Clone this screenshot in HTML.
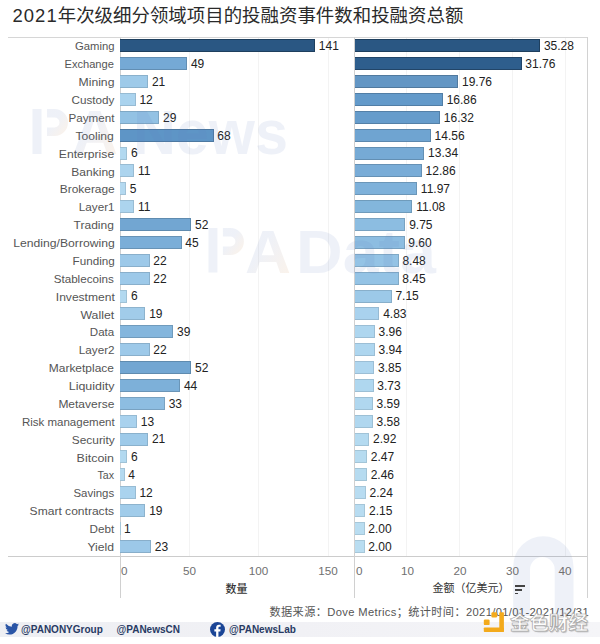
<!DOCTYPE html>
<html><head><meta charset="utf-8"><title>2021年次级细分领域项目的投融资事件数和投融资总额</title>
<style>
html,body{margin:0;padding:0;background:#fff;}
body{width:600px;height:644px;position:relative;overflow:hidden;font-family:"Liberation Sans","Noto Sans CJK SC",sans-serif;}
.a{position:absolute;}
.t{position:absolute;white-space:nowrap;line-height:1;}
.lab{position:absolute;right:485.7px;transform-origin:100% 50%;font-size:11px;color:#555;white-space:nowrap;line-height:1;}
.val{position:absolute;font-size:12px;color:#222;white-space:nowrap;line-height:1;}
.bar{position:absolute;box-sizing:border-box;}
.hl{position:absolute;height:1px;}
.vl{position:absolute;width:1px;}
.tick{position:absolute;font-size:11.7px;color:#707070;white-space:nowrap;line-height:1;}
.wm{position:absolute;white-space:nowrap;line-height:1;font-weight:bold;}
</style></head><body>

<div class="t" style="left:12.5px;top:6.6px;font-size:18.45px;color:#2a2a2a;font-family:'Liberation Sans','Noto Sans CJK SC',sans-serif;"><span style="letter-spacing:1.05px">2021</span>年次级细分领域项目的投融资事件数和投融资总额</div>
<div class="vl" style="left:188.6px;top:37px;height:519px;background:#f3f3f3"></div>
<div class="vl" style="left:258.0px;top:37px;height:519px;background:#f3f3f3"></div>
<div class="vl" style="left:327.6px;top:37px;height:519px;background:#f3f3f3"></div>
<div class="vl" style="left:406.3px;top:37px;height:519px;background:#f3f3f3"></div>
<div class="vl" style="left:459.4px;top:37px;height:519px;background:#f3f3f3"></div>
<div class="vl" style="left:512.0px;top:37px;height:519px;background:#f3f3f3"></div>
<div class="vl" style="left:565.0px;top:37px;height:519px;background:#f3f3f3"></div>
<div class="hl" style="left:8px;top:36.6px;width:580px;background:#d6d6d6"></div>
<div class="hl" style="left:8px;top:555.5px;width:580px;background:#cccccc"></div>
<div class="vl" style="left:119.5px;top:37px;height:561px;background:#d0d0d0"></div>
<div class="vl" style="left:354px;top:37px;height:561px;background:#d0d0d0"></div>
<div class="vl" style="left:587px;top:37px;height:561px;background:#d2d2d2"></div>
<div class="lab" style="top:41.45px;transform:scaleX(1.025)">Gaming</div>
<div class="bar" style="left:120px;top:39.35px;width:195.15px;height:13.0px;background:#2a5783;border:1px solid #1e3f5e;border-left:0"></div>
<div class="val" style="left:318.85px;top:40.15px">141</div>
<div class="bar" style="left:354.6px;top:39.35px;width:185.63px;height:13.0px;background:#2a5783;border:1px solid #1e3f5e;border-left:0"></div>
<div class="val" style="left:543.93px;top:40.15px">35.28</div>
<div class="lab" style="top:59.33px;transform:scaleX(1.011)">Exchange</div>
<div class="bar" style="left:120px;top:57.23px;width:67.18px;height:13.0px;background:#75a9d5;border:1px solid #628eb3;border-left:0"></div>
<div class="val" style="left:190.88px;top:58.02px">49</div>
<div class="bar" style="left:354.6px;top:57.23px;width:167.04px;height:13.0px;background:#2e5e8d;border:1px solid #224568;border-left:0"></div>
<div class="val" style="left:525.34px;top:58.02px">31.76</div>
<div class="lab" style="top:77.20px;transform:scaleX(1.107)">Mining</div>
<div class="bar" style="left:120px;top:75.10px;width:28.24px;height:13.0px;background:#9ecae9;border:1px solid #8ab1cc;border-left:0"></div>
<div class="val" style="left:151.94px;top:75.90px">21</div>
<div class="bar" style="left:354.6px;top:75.10px;width:103.69px;height:13.0px;background:#6396c4;border:1px solid #50799e;border-left:0"></div>
<div class="val" style="left:461.99px;top:75.90px">19.76</div>
<div class="lab" style="top:95.07px;transform:scaleX(1.062)">Custody</div>
<div class="bar" style="left:120px;top:92.97px;width:15.72px;height:13.0px;background:#aad3ee;border:1px solid #97bbd3;border-left:0"></div>
<div class="val" style="left:139.42px;top:93.77px">12</div>
<div class="bar" style="left:354.6px;top:92.97px;width:88.38px;height:13.0px;background:#639aca;border:1px solid #517ea6;border-left:0"></div>
<div class="val" style="left:446.68px;top:93.77px">16.86</div>
<div class="lab" style="top:112.95px;transform:scaleX(1.058)">Payment</div>
<div class="bar" style="left:120px;top:110.85px;width:39.37px;height:13.0px;background:#93c2e4;border:1px solid #7fa8c5;border-left:0"></div>
<div class="val" style="left:163.07px;top:111.65px">29</div>
<div class="bar" style="left:354.6px;top:110.85px;width:85.53px;height:13.0px;background:#669ccb;border:1px solid #5480a7;border-left:0"></div>
<div class="val" style="left:443.83px;top:111.65px">16.32</div>
<div class="lab" style="top:130.82px;transform:scaleX(1.103)">Tooling</div>
<div class="bar" style="left:120px;top:128.72px;width:93.61px;height:13.0px;background:#5e95c6;border:1px solid #4d79a1;border-left:0"></div>
<div class="val" style="left:217.31px;top:129.53px">68</div>
<div class="bar" style="left:354.6px;top:128.72px;width:76.24px;height:13.0px;background:#6fa4d1;border:1px solid #5c88ae;border-left:0"></div>
<div class="val" style="left:434.54px;top:129.53px">14.56</div>
<div class="lab" style="top:148.70px;transform:scaleX(1.104)">Enterprise</div>
<div class="bar" style="left:120px;top:146.60px;width:7.38px;height:13.0px;background:#b2d9f0;border:1px solid #9fc2d6;border-left:0"></div>
<div class="val" style="left:131.08px;top:147.40px">6</div>
<div class="bar" style="left:354.6px;top:146.60px;width:69.80px;height:13.0px;background:#76aad5;border:1px solid #638fb3;border-left:0"></div>
<div class="val" style="left:428.10px;top:147.40px">13.34</div>
<div class="lab" style="top:166.57px;transform:scaleX(1.092)">Banking</div>
<div class="bar" style="left:120px;top:164.47px;width:14.33px;height:13.0px;background:#acd4ee;border:1px solid #99bcd3;border-left:0"></div>
<div class="val" style="left:138.03px;top:165.28px">11</div>
<div class="bar" style="left:354.6px;top:164.47px;width:67.26px;height:13.0px;background:#79acd7;border:1px solid #6691b5;border-left:0"></div>
<div class="val" style="left:425.56px;top:165.28px">12.86</div>
<div class="lab" style="top:184.45px;transform:scaleX(1.084)">Brokerage</div>
<div class="bar" style="left:120px;top:182.35px;width:5.98px;height:13.0px;background:#b4d9f0;border:1px solid #a1c2d7;border-left:0"></div>
<div class="val" style="left:129.68px;top:183.15px">5</div>
<div class="bar" style="left:354.6px;top:182.35px;width:62.56px;height:13.0px;background:#7eb1da;border:1px solid #6b96b8;border-left:0"></div>
<div class="val" style="left:420.86px;top:183.15px">11.97</div>
<div class="lab" style="top:202.32px;transform:scaleX(1.065)">Layer1</div>
<div class="bar" style="left:120px;top:200.22px;width:14.33px;height:13.0px;background:#acd4ee;border:1px solid #99bcd3;border-left:0"></div>
<div class="val" style="left:138.03px;top:201.03px">11</div>
<div class="bar" style="left:354.6px;top:200.22px;width:57.87px;height:13.0px;background:#83b6dc;border:1px solid #6f9bbb;border-left:0"></div>
<div class="val" style="left:416.17px;top:201.03px">11.08</div>
<div class="lab" style="top:220.20px;transform:scaleX(1.092)">Trading</div>
<div class="bar" style="left:120px;top:218.10px;width:71.36px;height:13.0px;background:#72a6d2;border:1px solid #5f8baf;border-left:0"></div>
<div class="val" style="left:195.06px;top:218.90px">52</div>
<div class="bar" style="left:354.6px;top:218.10px;width:50.84px;height:13.0px;background:#8cbde1;border:1px solid #78a2c1;border-left:0"></div>
<div class="val" style="left:409.14px;top:218.90px">9.75</div>
<div class="lab" style="top:238.07px;transform:scaleX(1.106)">Lending/Borrowing</div>
<div class="bar" style="left:120px;top:235.97px;width:61.62px;height:13.0px;background:#7baed8;border:1px solid #6893b6;border-left:0"></div>
<div class="val" style="left:185.32px;top:236.78px">45</div>
<div class="bar" style="left:354.6px;top:235.97px;width:50.05px;height:13.0px;background:#8dbde1;border:1px solid #79a2c1;border-left:0"></div>
<div class="val" style="left:408.35px;top:236.78px">9.60</div>
<div class="lab" style="top:255.95px;transform:scaleX(1.061)">Funding</div>
<div class="bar" style="left:120px;top:253.85px;width:29.63px;height:13.0px;background:#9dc9e9;border:1px solid #89afcb;border-left:0"></div>
<div class="val" style="left:153.33px;top:254.65px">22</div>
<div class="bar" style="left:354.6px;top:253.85px;width:44.14px;height:13.0px;background:#94c3e5;border:1px solid #80a9c6;border-left:0"></div>
<div class="val" style="left:402.44px;top:254.65px">8.48</div>
<div class="lab" style="top:273.83px;transform:scaleX(1.059)">Stablecoins</div>
<div class="bar" style="left:120px;top:271.73px;width:29.63px;height:13.0px;background:#9dc9e9;border:1px solid #89afcb;border-left:0"></div>
<div class="val" style="left:153.33px;top:272.53px">22</div>
<div class="bar" style="left:354.6px;top:271.73px;width:43.98px;height:13.0px;background:#94c3e5;border:1px solid #80a9c6;border-left:0"></div>
<div class="val" style="left:402.28px;top:272.53px">8.45</div>
<div class="lab" style="top:291.70px;transform:scaleX(1.097)">Investment</div>
<div class="bar" style="left:120px;top:289.60px;width:7.38px;height:13.0px;background:#b2d9f0;border:1px solid #9fc2d6;border-left:0"></div>
<div class="val" style="left:131.08px;top:290.40px">6</div>
<div class="bar" style="left:354.6px;top:289.60px;width:37.12px;height:13.0px;background:#9cc9e8;border:1px solid #88afca;border-left:0"></div>
<div class="val" style="left:395.42px;top:290.40px">7.15</div>
<div class="lab" style="top:309.58px;transform:scaleX(1.117)">Wallet</div>
<div class="bar" style="left:120px;top:307.48px;width:25.46px;height:13.0px;background:#a1ccea;border:1px solid #8db3cd;border-left:0"></div>
<div class="val" style="left:149.16px;top:308.28px">19</div>
<div class="bar" style="left:354.6px;top:307.48px;width:24.87px;height:13.0px;background:#a9d2ee;border:1px solid #96bad3;border-left:0"></div>
<div class="val" style="left:383.17px;top:308.28px">4.83</div>
<div class="lab" style="top:327.45px;transform:scaleX(1.050)">Data</div>
<div class="bar" style="left:120px;top:325.35px;width:53.28px;height:13.0px;background:#84b6dd;border:1px solid #709bbc;border-left:0"></div>
<div class="val" style="left:176.98px;top:326.15px">39</div>
<div class="bar" style="left:354.6px;top:325.35px;width:20.28px;height:13.0px;background:#aed6ef;border:1px solid #9bbed5;border-left:0"></div>
<div class="val" style="left:378.58px;top:326.15px">3.96</div>
<div class="lab" style="top:345.33px;transform:scaleX(1.065)">Layer2</div>
<div class="bar" style="left:120px;top:343.23px;width:29.63px;height:13.0px;background:#9dc9e9;border:1px solid #89afcb;border-left:0"></div>
<div class="val" style="left:153.33px;top:344.03px">22</div>
<div class="bar" style="left:354.6px;top:343.23px;width:20.17px;height:13.0px;background:#aed6ef;border:1px solid #9bbed5;border-left:0"></div>
<div class="val" style="left:378.47px;top:344.03px">3.94</div>
<div class="lab" style="top:363.20px;transform:scaleX(1.087)">Marketplace</div>
<div class="bar" style="left:120px;top:361.10px;width:71.36px;height:13.0px;background:#72a6d2;border:1px solid #5f8baf;border-left:0"></div>
<div class="val" style="left:195.06px;top:361.90px">52</div>
<div class="bar" style="left:354.6px;top:361.10px;width:19.70px;height:13.0px;background:#afd6ef;border:1px solid #9cbed5;border-left:0"></div>
<div class="val" style="left:378.00px;top:361.90px">3.85</div>
<div class="lab" style="top:381.08px;transform:scaleX(1.131)">Liquidity</div>
<div class="bar" style="left:120px;top:378.98px;width:60.23px;height:13.0px;background:#7db0d9;border:1px solid #6a95b7;border-left:0"></div>
<div class="val" style="left:183.93px;top:379.78px">44</div>
<div class="bar" style="left:354.6px;top:378.98px;width:19.06px;height:13.0px;background:#afd7ef;border:1px solid #9cbfd5;border-left:0"></div>
<div class="val" style="left:377.36px;top:379.78px">3.73</div>
<div class="lab" style="top:398.95px;transform:scaleX(1.090)">Metaverse</div>
<div class="bar" style="left:120px;top:396.85px;width:44.93px;height:13.0px;background:#8dbde1;border:1px solid #79a2c1;border-left:0"></div>
<div class="val" style="left:168.63px;top:397.65px">33</div>
<div class="bar" style="left:354.6px;top:396.85px;width:18.32px;height:13.0px;background:#b0d7ef;border:1px solid #9dc0d5;border-left:0"></div>
<div class="val" style="left:376.62px;top:397.65px">3.59</div>
<div class="lab" style="top:416.83px;transform:scaleX(1.046)">Risk management</div>
<div class="bar" style="left:120px;top:414.73px;width:17.11px;height:13.0px;background:#a9d2ee;border:1px solid #95bad3;border-left:0"></div>
<div class="val" style="left:140.81px;top:415.53px">13</div>
<div class="bar" style="left:354.6px;top:414.73px;width:18.27px;height:13.0px;background:#b0d7ef;border:1px solid #9dc0d5;border-left:0"></div>
<div class="val" style="left:376.57px;top:415.53px">3.58</div>
<div class="lab" style="top:434.70px;transform:scaleX(1.080)">Security</div>
<div class="bar" style="left:120px;top:432.60px;width:28.24px;height:13.0px;background:#9ecae9;border:1px solid #8ab1cc;border-left:0"></div>
<div class="val" style="left:151.94px;top:433.40px">21</div>
<div class="bar" style="left:354.6px;top:432.60px;width:14.79px;height:13.0px;background:#b4daf0;border:1px solid #a1c3d7;border-left:0"></div>
<div class="val" style="left:373.09px;top:433.40px">2.92</div>
<div class="lab" style="top:452.58px;transform:scaleX(1.133)">Bitcoin</div>
<div class="bar" style="left:120px;top:450.48px;width:7.38px;height:13.0px;background:#b2d9f0;border:1px solid #9fc2d6;border-left:0"></div>
<div class="val" style="left:131.08px;top:451.28px">6</div>
<div class="bar" style="left:354.6px;top:450.48px;width:12.41px;height:13.0px;background:#b6dbf0;border:1px solid #a3c5d7;border-left:0"></div>
<div class="val" style="left:370.71px;top:451.28px">2.47</div>
<div class="lab" style="top:470.45px;transform:scaleX(0.971)">Tax</div>
<div class="bar" style="left:120px;top:468.35px;width:4.59px;height:13.0px;background:#b5daf0;border:1px solid #a2c3d7;border-left:0"></div>
<div class="val" style="left:128.29px;top:469.15px">4</div>
<div class="bar" style="left:354.6px;top:468.35px;width:12.36px;height:13.0px;background:#b6dbf0;border:1px solid #a3c5d7;border-left:0"></div>
<div class="val" style="left:370.66px;top:469.15px">2.46</div>
<div class="lab" style="top:488.33px;transform:scaleX(1.039)">Savings</div>
<div class="bar" style="left:120px;top:486.23px;width:15.72px;height:13.0px;background:#aad3ee;border:1px solid #97bbd3;border-left:0"></div>
<div class="val" style="left:139.42px;top:487.03px">12</div>
<div class="bar" style="left:354.6px;top:486.23px;width:11.20px;height:13.0px;background:#b8dcf1;border:1px solid #a5c6d9;border-left:0"></div>
<div class="val" style="left:369.50px;top:487.03px">2.24</div>
<div class="lab" style="top:506.20px;transform:scaleX(1.096)">Smart contracts</div>
<div class="bar" style="left:120px;top:504.10px;width:25.46px;height:13.0px;background:#a1ccea;border:1px solid #8db3cd;border-left:0"></div>
<div class="val" style="left:149.16px;top:504.90px">19</div>
<div class="bar" style="left:354.6px;top:504.10px;width:10.72px;height:13.0px;background:#b8dcf1;border:1px solid #a5c6d9;border-left:0"></div>
<div class="val" style="left:369.02px;top:504.90px">2.15</div>
<div class="lab" style="top:524.08px;transform:scaleX(1.061)">Debt</div>
<div class="bar" style="left:120px;top:521.98px;width:0.42px;height:13.0px;background:#b9ddf1;border:1px solid #a6c7d9;border-left:0"></div>
<div class="val" style="left:124.12px;top:522.77px">1</div>
<div class="bar" style="left:354.6px;top:521.98px;width:9.93px;height:13.0px;background:#b9ddf1;border:1px solid #a6c7d9;border-left:0"></div>
<div class="val" style="left:368.23px;top:522.77px">2.00</div>
<div class="lab" style="top:541.95px;transform:scaleX(1.106)">Yield</div>
<div class="bar" style="left:120px;top:539.85px;width:31.02px;height:13.0px;background:#9cc8e8;border:1px solid #88aeca;border-left:0"></div>
<div class="val" style="left:154.72px;top:540.65px">23</div>
<div class="bar" style="left:354.6px;top:539.85px;width:9.93px;height:13.0px;background:#b9ddf1;border:1px solid #a6c7d9;border-left:0"></div>
<div class="val" style="left:368.23px;top:540.65px">2.00</div>
<svg class="a" style="left:0;top:0" width="600" height="644" viewBox="0 0 600 644"><linearGradient id="g1" x1="0" y1="0" x2="1" y2="1"><stop offset="0.4" stop-color="#6680bc" stop-opacity="0.11"/><stop offset="1" stop-color="#f09a40" stop-opacity="0.12"/></linearGradient><rect x="32.5" y="109" width="9.0" height="45" fill="rgba(102,128,188,0.11)"/><path d="M47.0 109 H54.5 A13.5 13.5 0 0 1 54.5 136.0 H47.0 V127.5 H54.5 A5.0 5.0 0 0 0 54.5 117.5 H47.0 Z" fill="url(#g1)"/><text x="72" y="154" font-family="Liberation Sans" font-weight="bold" font-size="62.5" textLength="46" lengthAdjust="spacingAndGlyphs" fill="url(#g1)">A</text><text x="133" y="154" font-family="Liberation Sans" font-weight="bold" font-size="62.5" textLength="155" lengthAdjust="spacingAndGlyphs" fill="rgba(102,128,188,0.11)">News</text><linearGradient id="g2" x1="0" y1="0" x2="1" y2="1"><stop offset="0.4" stop-color="#6680bc" stop-opacity="0.11"/><stop offset="1" stop-color="#f09a40" stop-opacity="0.12"/></linearGradient><rect x="208.5" y="228" width="8.9" height="44.5" fill="rgba(102,128,188,0.11)"/><path d="M222.9 228 H230.4 A13.5 13.5 0 0 1 230.4 255.0 H222.9 V246.5 H230.4 A5.0 5.0 0 0 0 230.4 236.5 H222.9 Z" fill="url(#g2)"/><text x="245" y="272.5" font-family="Liberation Sans" font-weight="bold" font-size="61" textLength="46" lengthAdjust="spacingAndGlyphs" fill="url(#g2)">A</text><text x="296" y="272.5" font-family="Liberation Sans" font-weight="bold" font-size="61" textLength="140" lengthAdjust="spacingAndGlyphs" fill="rgba(102,128,188,0.11)">Data</text></svg>
<svg class="a" style="left:500px;top:530px" width="80" height="86" viewBox="0 0 80 86"><path d="M13.2 86 V36.4 A30.15 30.15 0 0 1 73.5 36.4 V86 H54.7 V39.4 A12.35 12.35 0 0 0 30 39.4 V86 Z" fill="rgba(102,128,188,0.11)"/></svg>
<div class="tick" style="left:121px;top:565.4px">0</div>
<div class="tick" style="left:189.5px;top:565.4px;transform:translateX(-50%)">50</div>
<div class="tick" style="left:258.5px;top:565.4px;transform:translateX(-50%)">100</div>
<div class="tick" style="left:328px;top:565.4px;transform:translateX(-50%)">150</div>
<div class="tick" style="left:356px;top:565.4px">0</div>
<div class="tick" style="left:407.5px;top:565.4px;transform:translateX(-50%)">10</div>
<div class="tick" style="left:460px;top:565.4px;transform:translateX(-50%)">20</div>
<div class="tick" style="left:512.5px;top:565.4px;transform:translateX(-50%)">30</div>
<div class="tick" style="left:565px;top:565.4px;transform:translateX(-50%)">40</div>
<div class="t" style="left:225.5px;top:582.5px;font-size:11px;color:#333;font-weight:500;font-family:'Noto Sans CJK SC',sans-serif;">数量</div>
<div class="t" style="left:432.5px;top:583.3px;font-size:11px;color:#333;font-family:'Liberation Sans','Noto Sans CJK SC',sans-serif;">金额（亿美元）</div>
<div class="a" style="left:515px;top:585px;width:10px;height:1.6px;background:#444"></div>
<div class="a" style="left:515px;top:589px;width:7px;height:1.6px;background:#444"></div>
<div class="a" style="left:515px;top:592.5px;width:3px;height:1.6px;background:#444"></div>
<div class="t" style="right:11px;top:606.5px;font-size:11.2px;letter-spacing:0.35px;color:#555;font-family:'Liberation Sans','Noto Sans CJK SC',sans-serif;">数据来源：Dove Metrics；统计时间：2021/01/01-2021/12/31</div>
<div class="a" style="left:0;top:622px;width:600px;height:15px;background:linear-gradient(90deg,#eeeff3 0%,#f1f1f5 50%,#f5f5f8 100%)"></div>
<svg class="a" style="left:5px;top:623px" width="14" height="12" viewBox="0 0 24 20"><path fill="#2a55a6" d="M24 2.4a9.8 9.8 0 0 1-2.8.8A4.9 4.9 0 0 0 23.3.4a9.9 9.9 0 0 1-3.1 1.2A4.9 4.9 0 0 0 11.8 6 14 14 0 0 1 1.7.9a4.9 4.9 0 0 0 1.5 6.6A4.9 4.9 0 0 1 1 6.9v.1a4.9 4.9 0 0 0 3.9 4.8 4.9 4.9 0 0 1-2.2.1 4.9 4.9 0 0 0 4.6 3.4A9.9 9.9 0 0 1 0 17.3 14 14 0 0 0 7.5 19.5c9 0 14-7.5 14-14v-.6A10 10 0 0 0 24 2.4z"/></svg>
<div class="t" style="left:21px;top:624.5px;font-size:10px;font-weight:bold;color:#283a63;">@PANONYGroup</div>
<div class="t" style="left:116.5px;top:624.5px;font-size:10px;font-weight:bold;color:#283a63;">@PANewsCN</div>
<svg class="a" style="left:210px;top:621.5px" width="15" height="15" viewBox="0 0 24 24"><circle cx="12" cy="12" r="12" fill="#1b4596"/><path fill="#fff" d="M13.5 24V15h3l.5-3.5h-3.5V9.3c0-1 .3-1.7 1.8-1.7H17V4.5a25 25 0 0 0-2.7-.1c-2.7 0-4.5 1.6-4.5 4.6v2.5H7V15h2.8v9z"/></svg>
<div class="t" style="left:229px;top:624.5px;font-size:10px;font-weight:bold;color:#283a63;">@PANewsLab</div>
<svg class="a" style="left:483px;top:611px" width="22" height="22" viewBox="0 0 22 22"><g fill="#f3aa1c"><rect x="0.8" y="8.6" width="5.8" height="5.5" rx="1.2"/><rect x="8.4" y="1.3" width="5.8" height="5.2" rx="1.2"/><rect x="16.3" y="1.3" width="4.6" height="19.8" rx="0.8"/><rect x="0.8" y="16.5" width="20.1" height="4.6" rx="0.8"/></g></svg>
<div class="t" style="left:510px;top:612px;font-size:19.5px;color:#fdfdfd;font-weight:bold;-webkit-text-stroke:0.7px #a8a8a8;text-shadow:1px 1px 1px rgba(0,0,0,0.25);font-family:'Noto Sans CJK SC',sans-serif;">金色财经</div>
</body></html>
